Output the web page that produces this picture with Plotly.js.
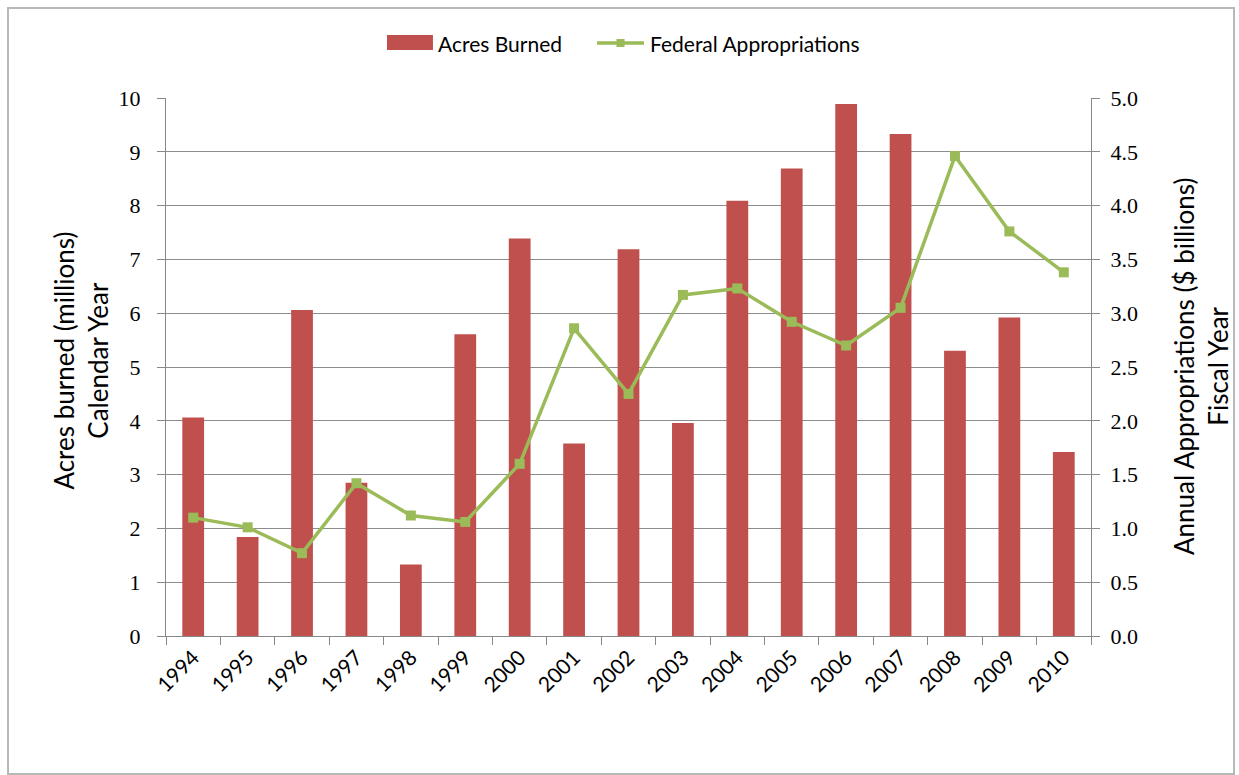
<!DOCTYPE html>
<html>
<head>
<meta charset="utf-8">
<script src="https://cdn.plot.ly/plotly-3.0.1.min.js"></script>
<style>
html,body{margin:0;padding:0;background:#fff;}
#chart{width:1239px;height:775px;}
#frame{position:absolute;left:7px;top:7px;width:1224px;height:764px;border:2px solid #b8b8b8;pointer-events:none;}
</style>
</head>
<body>
<div id="chart"></div>
<div id="frame"></div>
<script>
const years = ["1994","1995","1996","1997","1998","1999","2000","2001","2002","2003","2004","2005","2006","2007","2008","2009","2010"];
const acresBurned = [4.06,1.84,6.06,2.85,1.33,5.61,7.39,3.58,7.19,3.96,8.09,8.69,9.89,9.33,5.30,5.92,3.42];
const appropriations = [1.10,1.01,0.77,1.42,1.12,1.06,1.60,2.86,2.25,3.17,3.23,2.92,2.70,3.05,4.46,3.76,3.38];
const seriesNames = ["Acres Burned","Federal Appropriations"];
const leftTitle = "Acres burned (millions)<br>Calendar Year";
const rightTitle = "Annual Appropriations ($ billions)<br>Fiscal Year";

const RED = "#C0504D", GREEN = "#9BBB59";
const sansFont = "Lato, 'Open Sans', sans-serif";
const titleFont = {family:sansFont, size:26, color:"#000"};
const tickFont = {family:"'Liberation Serif', 'DejaVu Serif', serif", size:22, color:"#000"};

const traces = [
  {type:"bar", name:seriesNames[0], x:years, y:acresBurned, yaxis:"y",
   marker:{color:RED}, width:0.4},
  {type:"scatter", mode:"lines+markers", name:seriesNames[1], x:years, y:appropriations, yaxis:"y2",
   line:{color:GREEN, width:3.5}, marker:{symbol:"square", size:10, color:GREEN}}
];

const layout = {
  width:1239, height:775,
  margin:{l:166, r:148, t:98, b:139, autoexpand:false},
  paper_bgcolor:"#fff", plot_bgcolor:"#fff",
  showlegend:false,
  xaxis:{type:"category", range:[-0.5,16.5], tickson:"boundaries", ticks:"outside", ticklen:8, tickcolor:"#888",
         showline:true, linecolor:"#888", linewidth:1, showgrid:false, tickangle:-45,
         tickfont:{family:sansFont, size:21, color:"#000"}},
  yaxis:{range:[0,10], dtick:1, ticks:"outside", ticklen:8, tickcolor:"#888",
         showline:true, linecolor:"#888", gridcolor:"#8c8c8c", gridwidth:1, zeroline:false,
         tickfont:tickFont, ticklabelstandoff:12},
  yaxis2:{range:[0,5], dtick:0.5, tickformat:".1f", overlaying:"y", side:"right",
          ticks:"outside", ticklen:8, tickcolor:"#888", showline:true, linecolor:"#888",
          showgrid:false, zeroline:false, tickfont:tickFont, ticklabelstandoff:6},
  shapes:[
    {type:"rect", xref:"paper", yref:"paper", x0:0.2389, x1:0.2886, y0:1.0892, y1:1.1171,
     fillcolor:RED, line:{width:0}},
    {type:"line", xref:"paper", yref:"paper", x0:0.466, x1:0.5168, y0:1.1022, y1:1.1022,
     line:{color:GREEN, width:3.5}},
    {type:"rect", xref:"paper", yref:"paper", x0:0.4870, x1:0.4957, y0:1.0948, y1:1.1097,
     fillcolor:GREEN, line:{width:0}}
  ],
  annotations:[
    {text:seriesNames[0], xref:"paper", yref:"paper", x:0.2919, y:1.1022, xanchor:"left", yanchor:"middle",
     showarrow:false, font:{family:sansFont, size:21, color:"#000"}},
    {text:seriesNames[1], xref:"paper", yref:"paper", x:0.5211, y:1.1022, xanchor:"left", yanchor:"middle",
     showarrow:false, font:{family:sansFont, size:21, color:"#000"}},
    {text:leftTitle, xref:"paper", yref:"paper", x:(81.5-166)/925, y:0.511, xanchor:"center", yanchor:"middle",
     textangle:-90, showarrow:false, font:titleFont},
    {text:rightTitle, xref:"paper", yref:"paper", x:(1201-166)/925, y:0.50, xanchor:"center", yanchor:"middle",
     textangle:-90, showarrow:false, font:titleFont}
  ]
};

Plotly.newPlot("chart", traces, layout, {displayModeBar:false, staticPlot:true});
</script>
</body>
</html>
